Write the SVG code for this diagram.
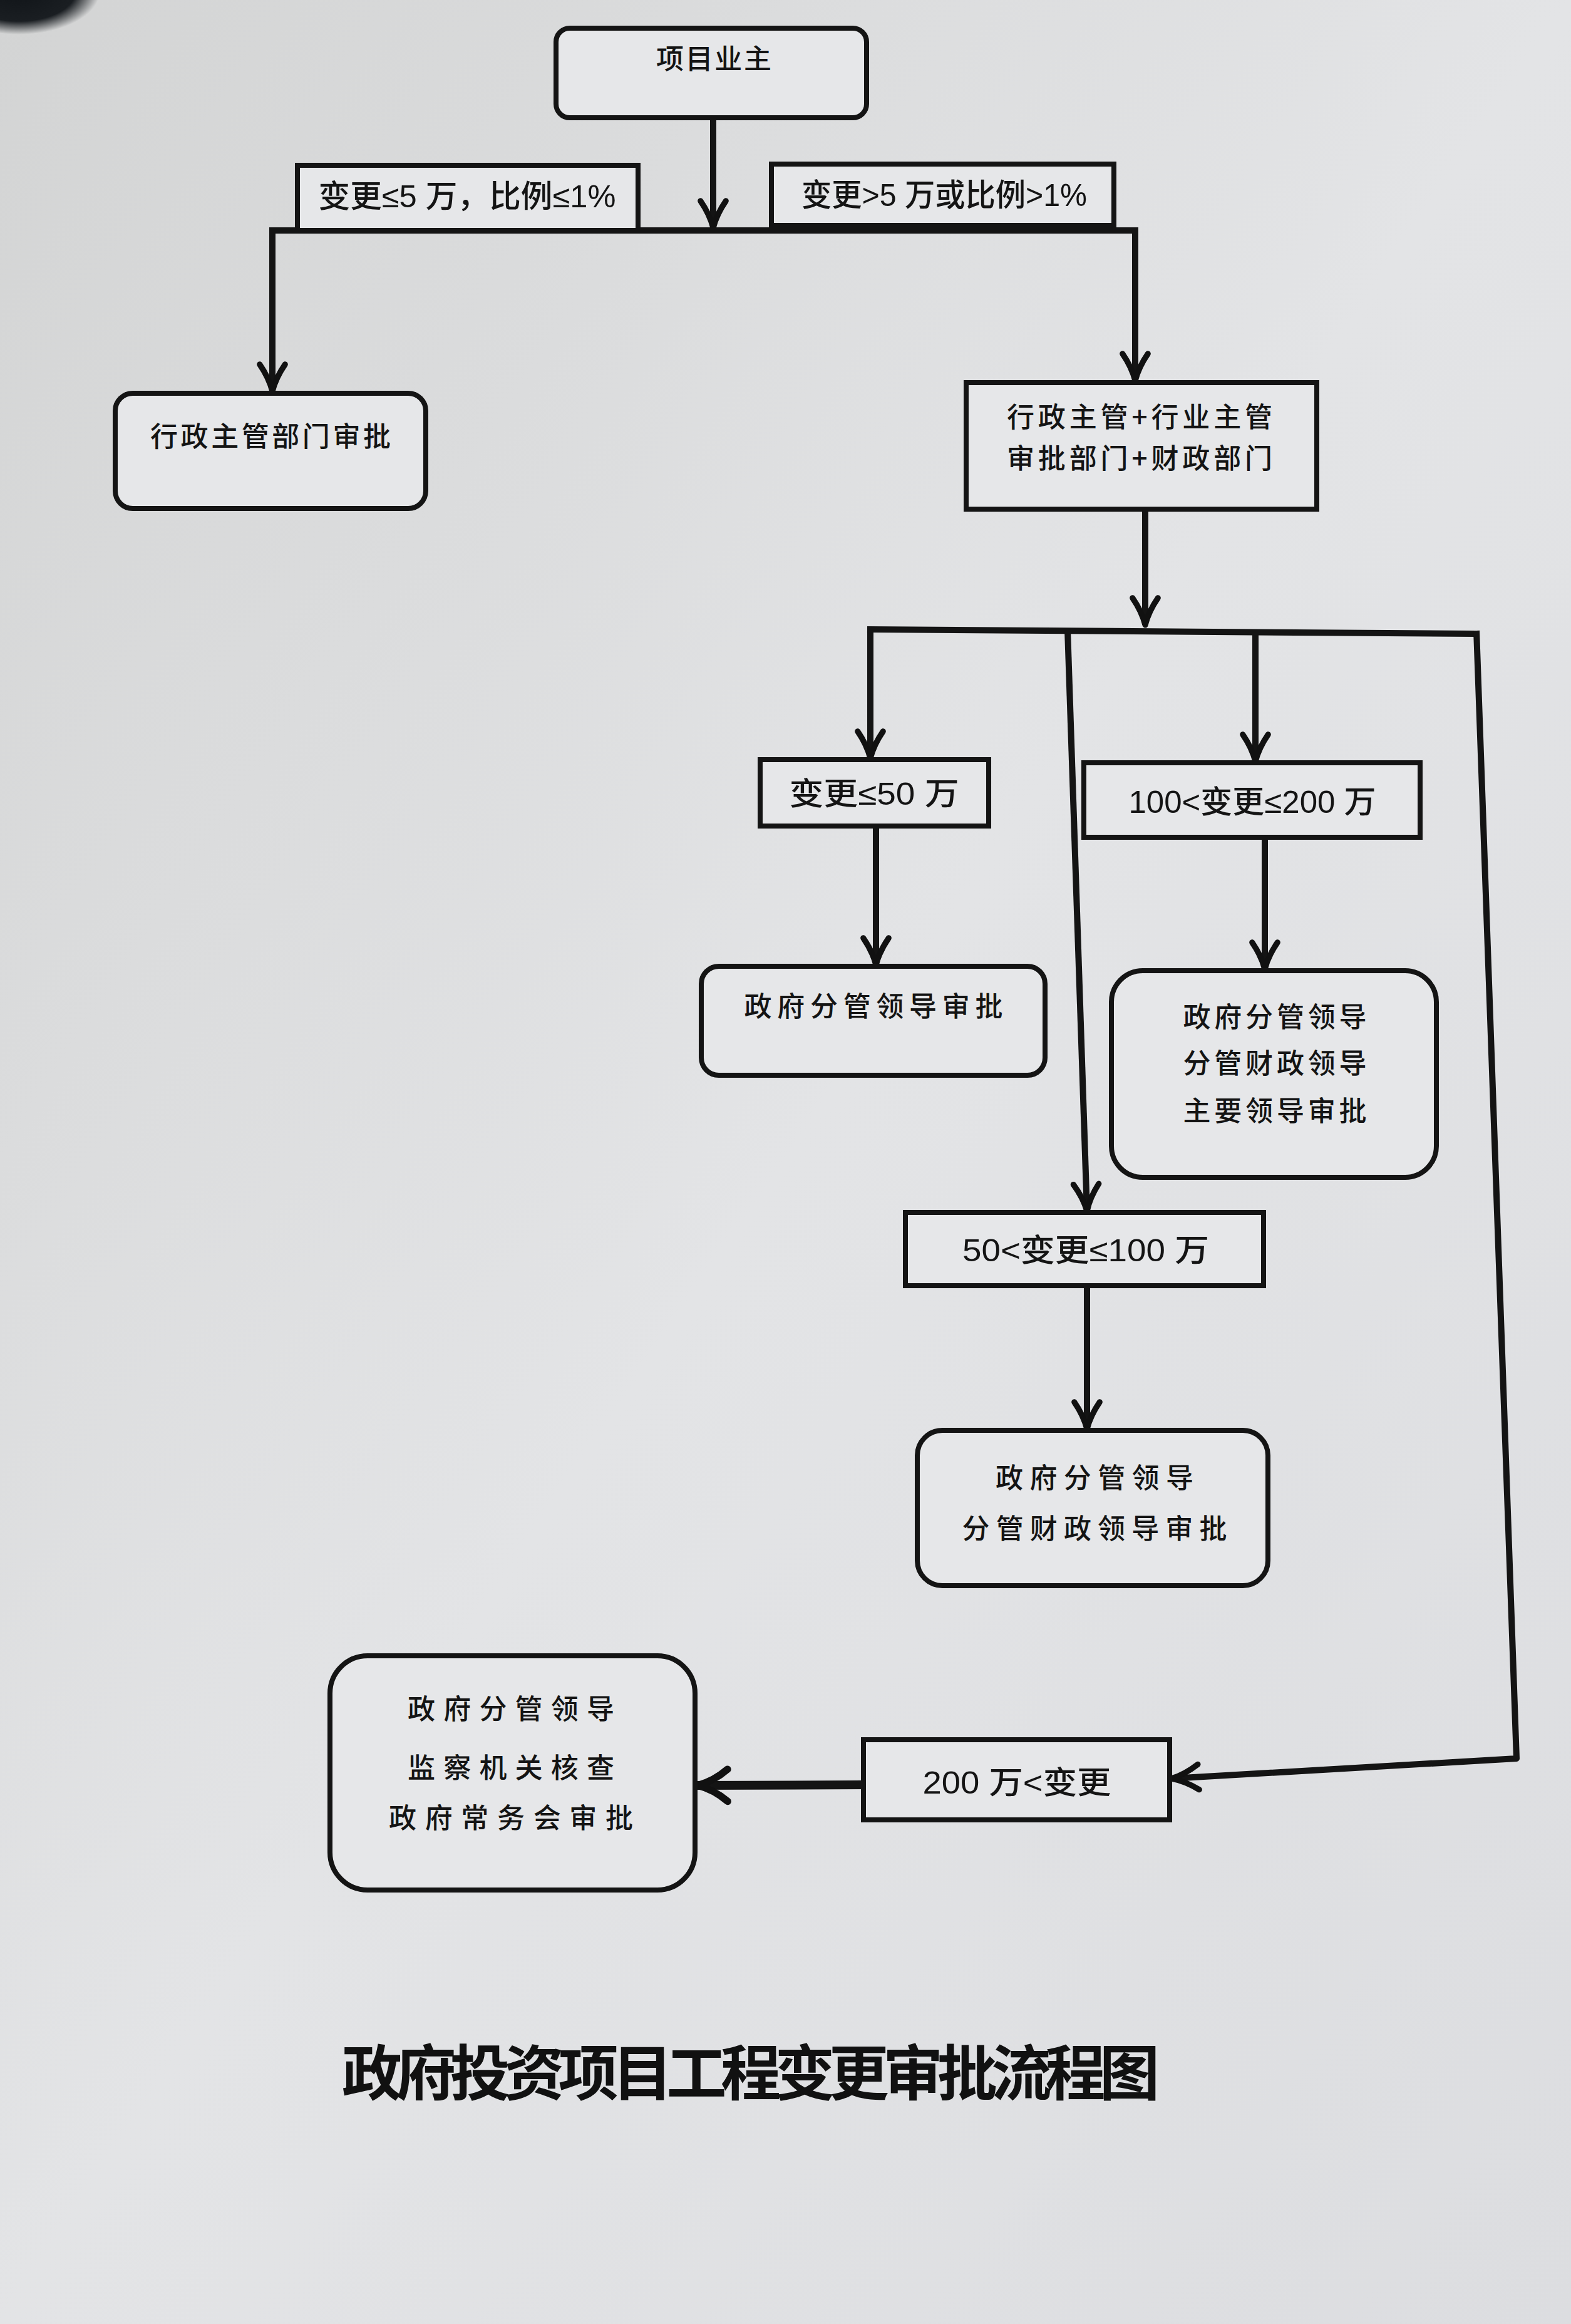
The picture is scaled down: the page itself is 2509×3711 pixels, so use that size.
<svg xmlns="http://www.w3.org/2000/svg" width="2509" height="3711" viewBox="0 0 2509 3711">
<defs>
<linearGradient id="bg" x1="0" y1="0" x2="1" y2="1">
<stop offset="0" stop-color="#d3d4d4"/>
<stop offset="0.5" stop-color="#e3e4e6"/>
<stop offset="1" stop-color="#dcdde0"/>
</linearGradient>
<radialGradient id="blob" cx="0.5" cy="0.5" r="0.5">
<stop offset="0" stop-color="#101418"/>
<stop offset="0.7" stop-color="#1a1e22"/>
<stop offset="1" stop-color="#1a1e22" stop-opacity="0"/>
</radialGradient>
<marker id="ah" viewBox="0 0 20 20" refX="18" refY="10" markerWidth="54" markerHeight="54" markerUnits="userSpaceOnUse" orient="auto">
<path d="M2,2.5 Q10,8 18,10 Q10,12 2,17.5" fill="none" stroke="#111" stroke-width="3.4" stroke-linecap="round" stroke-linejoin="round"/>
</marker>
<marker id="ah2" viewBox="0 0 20 20" refX="18" refY="10" markerWidth="64" markerHeight="64" markerUnits="userSpaceOnUse" orient="auto">
<path d="M3,2 Q10,8 18,10 Q10,12 3,18" fill="none" stroke="#111" stroke-width="3.6" stroke-linecap="round" stroke-linejoin="round"/>
</marker>
<style>
.box{fill:#e6e7e9;stroke:#141414;stroke-width:8}
.cn{font-family:"Noto Sans CJK SC","Noto Sans CJK JP",sans-serif;font-size:44px;font-weight:500;fill:#141414;text-anchor:middle}
.lb{font-family:"Liberation Sans","Noto Sans CJK SC",sans-serif;font-size:50px;font-weight:500;fill:#141414;text-anchor:middle}
.ln{fill:none;stroke:#141414;stroke-width:10;stroke-linejoin:round}
.title{font-family:"Noto Sans CJK SC","Noto Sans CJK TC",sans-serif;font-size:96px;font-weight:700;fill:#111;text-anchor:middle}
</style>
</defs>
<rect x="0" y="0" width="2509" height="3711" fill="url(#bg)"/>
<ellipse cx="30" cy="-15" rx="130" ry="70" fill="url(#blob)"/>

<g id="connectors">
<line class="ln" x1="1139" y1="188" x2="1139" y2="364" marker-end="url(#ah)"/>
<line class="ln" x1="430" y1="368" x2="1818" y2="368"/>
<line class="ln" x1="435" y1="368" x2="435" y2="625" marker-end="url(#ah)"/>
<line class="ln" x1="1813" y1="368" x2="1813" y2="608" marker-end="url(#ah)"/>
<line class="ln" x1="1829" y1="813" x2="1829" y2="998" marker-end="url(#ah)"/>
<polyline class="ln" points="1385,1005 2358,1012"/>
<line class="ln" x1="1390" y1="1005" x2="1390" y2="1211" marker-end="url(#ah)"/>
<line class="ln" x1="2005" y1="1008" x2="2005" y2="1216" marker-end="url(#ah)"/>
<line class="ln" x1="1705" y1="1006" x2="1736" y2="1934" marker-end="url(#ah)"/>
<line class="ln" x1="1399" y1="1319" x2="1399" y2="1541" marker-end="url(#ah)"/>
<line class="ln" x1="2020" y1="1337" x2="2020" y2="1548" marker-end="url(#ah)"/>
<line class="ln" x1="1736" y1="2053" x2="1736" y2="2282" marker-end="url(#ah)"/>
<polyline class="ln" points="2358,1007 2422,2808 1871,2840" marker-end="url(#ah)"/>
<line class="ln" style="stroke-width:14" x1="1379" y1="2850" x2="1114" y2="2851" marker-end="url(#ah2)"/>
</g>

<g id="n-owner">
<rect class="box" x="888" y="45" width="496" height="143" rx="22"/>
<text class="cn" x="1140" y="110" font-size="38" textLength="184">项目业主</text>
</g>
<g id="l-small">
<rect class="box" x="475" y="264" width="544" height="104"/>
<text class="lb" x="746" y="331" textLength="475" lengthAdjust="spacingAndGlyphs">变更≤5 万，比例≤1%</text>
</g>
<g id="l-large">
<rect class="box" x="1232" y="262" width="547" height="98"/>
<text class="lb" x="1508" y="329" textLength="456" lengthAdjust="spacingAndGlyphs">变更&gt;5 万或比例&gt;1%</text>
</g>
<g id="n-admin">
<rect class="box" x="184" y="628" width="496" height="184" rx="28"/>
<text class="cn" x="432" y="713" textLength="384">行政主管部门审批</text>
</g>
<g id="n-depts">
<rect class="box" x="1543" y="611" width="560" height="202"/>
<text class="cn" x="1820" y="682" textLength="424">行政主管+行业主管</text>
<text class="cn" x="1820" y="748" textLength="424">审批部门+财政部门</text>
</g>
<g id="l-50">
<rect class="box" x="1214" y="1213" width="365" height="106"/>
<text class="lb" x="1396" y="1285" textLength="271" lengthAdjust="spacingAndGlyphs">变更≤50 万</text>
</g>
<g id="n-50">
<rect class="box" x="1120" y="1543" width="549" height="174" rx="28"/>
<text class="cn" x="1395" y="1623" textLength="413">政府分管领导审批</text>
</g>
<g id="l-100-200">
<rect class="box" x="1731" y="1218" width="537" height="119"/>
<text class="lb" x="2000" y="1298" textLength="395" lengthAdjust="spacingAndGlyphs">100&lt;变更≤200 万</text>
</g>
<g id="n-100-200">
<rect class="box" x="1775" y="1550" width="519" height="330" rx="50"/>
<text class="cn" x="2036" y="1640" textLength="293">政府分管领导</text>
<text class="cn" x="2036" y="1714" textLength="293">分管财政领导</text>
<text class="cn" x="2036" y="1790" textLength="293">主要领导审批</text>
</g>
<g id="l-50-100">
<rect class="box" x="1446" y="1936" width="572" height="117"/>
<text class="lb" x="1734" y="2014" textLength="394" lengthAdjust="spacingAndGlyphs">50&lt;变更≤100 万</text>
</g>
<g id="n-50-100">
<rect class="box" x="1465" y="2284" width="560" height="248" rx="40"/>
<text class="cn" x="1748" y="2376" textLength="316">政府分管领导</text>
<text class="cn" x="1748" y="2457" textLength="423">分管财政领导审批</text>
</g>
<g id="l-200">
<rect class="box" x="1379" y="2778" width="489" height="128"/>
<text class="lb" x="1624" y="2864" font-size="54" textLength="301" lengthAdjust="spacingAndGlyphs">200 万&lt;变更</text>
</g>
<g id="n-200">
<rect class="box" x="527" y="2644" width="583" height="374" rx="60"/>
<text class="cn" x="816" y="2745" font-size="50" textLength="330">政府分管领导</text>
<text class="cn" x="816" y="2839" font-size="50" textLength="330">监察机关核查</text>
<text class="cn" x="816" y="2919" font-size="50" textLength="390">政府常务会审批</text>
</g>
<g id="title">
<text class="title" x="1199" y="3345" textLength="1306">政府投资项目工程变更审批流程图</text>
</g>
</svg>
